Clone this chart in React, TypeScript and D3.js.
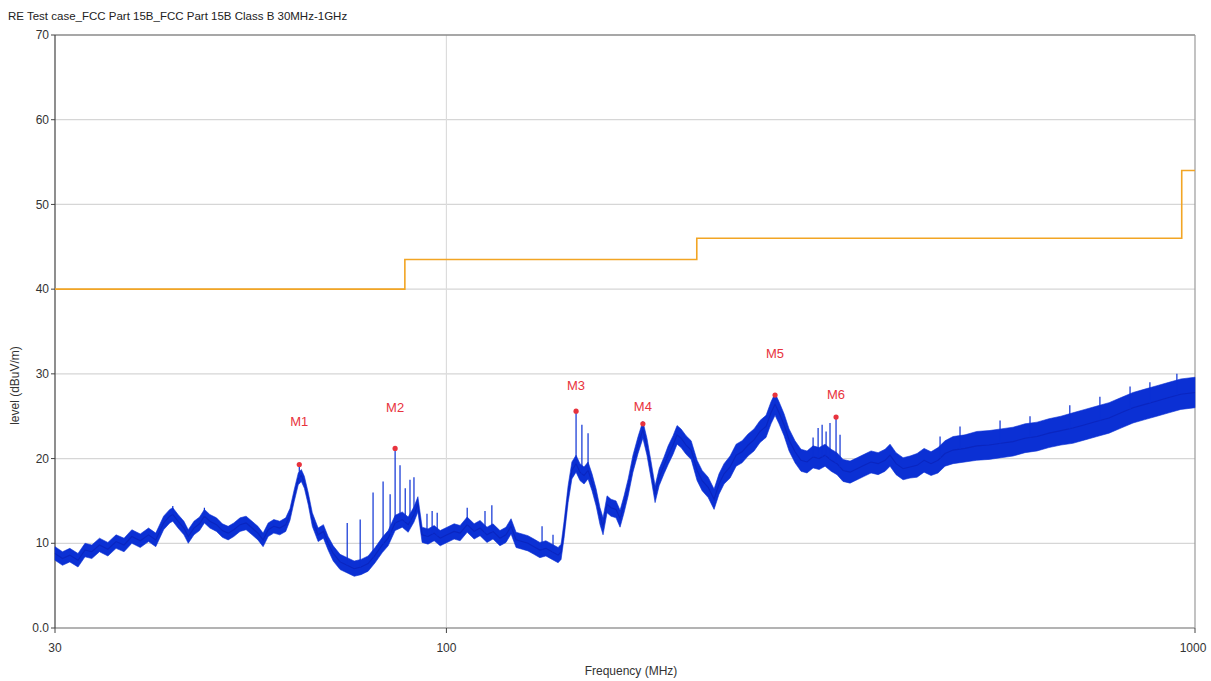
import { useMemo } from "react";
import * as d3 from "d3";

const traceData: [number, number, number][] = [
  [30.0, 8.8, 0.8], [30.7, 8.2, 0.8], [31.4, 8.6, 0.8], [32.2, 8.0, 0.8], [32.9, 9.2, 0.8],
  [33.6, 9.0, 0.8], [34.4, 9.8, 0.8], [35.3, 9.3, 0.8], [36.2, 10.2, 0.8], [37.1, 9.8, 0.8],
  [38.0, 10.8, 0.8], [39.0, 10.3, 0.8], [40.0, 11.0, 0.8], [40.9, 10.4, 0.8], [41.9, 12.4, 0.8],
  [42.7, 13.2, 0.8], [43.1, 13.4, 0.8], [43.8, 12.6, 0.8], [44.6, 11.8, 0.8], [45.2, 10.8, 0.8],
  [46.0, 11.8, 0.8], [46.8, 12.3, 0.8], [47.5, 13.2, 0.8], [48.3, 12.6, 0.8], [49.3, 12.2, 0.8],
  [50.2, 11.5, 0.8], [51.1, 11.2, 0.8], [52.0, 11.6, 0.8], [53.0, 12.2, 0.8], [54.0, 12.4, 0.8],
  [55.0, 11.8, 0.8], [56.0, 11.2, 0.8], [56.9, 10.4, 0.8], [57.8, 11.6, 0.8], [58.8, 12.0, 0.8],
  [59.9, 11.8, 0.8], [61.0, 12.2, 0.8], [61.8, 13.4, 0.7], [62.6, 15.6, 0.7], [63.4, 17.6, 0.7],
  [64.0, 18.0, 0.7], [64.6, 17.2, 0.7], [65.4, 15.2, 0.7], [66.2, 12.8, 0.8], [67.4, 11.0, 0.8],
  [68.5, 11.4, 0.8], [69.5, 10.0, 0.8], [70.6, 8.8, 0.9], [72.1, 7.8, 0.9], [73.7, 7.4, 0.9],
  [75.3, 7.0, 0.9], [76.9, 7.2, 0.9], [78.6, 7.6, 0.9], [80.3, 8.6, 0.9], [82.1, 9.8, 0.9],
  [83.6, 10.6, 0.9], [85.4, 12.4, 0.9], [87.3, 12.8, 0.9], [88.9, 12.2, 0.9], [90.5, 13.4, 0.9],
  [91.6, 14.6, 0.9], [92.8, 11.0, 0.9], [94.5, 10.8, 0.9], [96.3, 11.2, 0.9], [98.1, 10.6, 0.9],
  [100.2, 11.0, 0.9], [102.4, 11.4, 0.9], [104.3, 11.2, 0.9], [106.6, 12.2, 0.9], [108.9, 11.4, 0.9],
  [110.9, 11.8, 0.9], [113.3, 11.0, 0.9], [115.4, 11.4, 0.9], [117.9, 10.6, 0.9], [120.1, 11.0, 0.9],
  [122.0, 12.0, 0.9], [123.9, 10.4, 0.9], [126.2, 10.2, 0.9], [128.5, 10.0, 0.9], [130.9, 9.6, 0.9],
  [133.3, 9.2, 0.9], [135.8, 9.4, 0.9], [138.4, 9.0, 0.9], [141.0, 8.6, 0.9], [142.3, 9.0, 0.9],
  [143.6, 11.6, 1.0], [145.4, 15.8, 1.0], [147.1, 18.6, 1.0], [149.0, 19.4, 1.0], [150.8, 18.4, 1.0],
  [152.7, 18.0, 1.0], [154.6, 18.6, 1.0], [156.5, 17.2, 1.0], [158.5, 15.4, 1.0], [160.4, 13.2, 1.0],
  [161.9, 12.0, 1.0], [163.9, 14.6, 1.0], [165.9, 14.2, 1.0], [168.5, 14.0, 1.0], [170.6, 12.9, 1.0],
  [172.7, 14.6, 1.0], [174.9, 16.6, 1.0], [177.5, 19.4, 1.0], [180.3, 21.6, 1.0], [183.0, 23.4, 1.0],
  [185.3, 21.4, 1.0], [187.7, 18.6, 1.0], [190.0, 15.8, 1.0], [192.4, 17.8, 1.0], [195.3, 19.2, 1.0],
  [197.8, 20.4, 1.1], [200.8, 21.6, 1.1], [203.3, 22.8, 1.1], [205.8, 22.4, 1.1], [209.0, 21.6, 1.1],
  [212.3, 21.0, 1.1], [216.2, 18.6, 1.2], [219.6, 17.4, 1.2], [223.7, 16.6, 1.2], [227.8, 15.2, 1.2],
  [231.3, 17.0, 1.2], [234.9, 18.2, 1.2], [239.3, 19.0, 1.3], [243.8, 20.4, 1.3], [248.3, 20.8, 1.3],
  [252.9, 21.6, 1.3], [257.6, 22.2, 1.3], [262.4, 23.2, 1.3], [267.3, 23.8, 1.3], [271.4, 25.4, 1.3],
  [274.8, 26.4, 1.3], [278.2, 25.4, 1.3], [282.5, 24.0, 1.3], [286.9, 22.2, 1.3], [292.2, 20.8, 1.3],
  [297.6, 19.8, 1.3], [303.2, 19.6, 1.3], [308.9, 20.2, 1.3], [314.7, 20.0, 1.3], [320.5, 20.4, 1.3],
  [326.5, 19.8, 1.3], [332.5, 19.4, 1.3], [338.7, 18.6, 1.3], [346.1, 18.4, 1.3], [353.7, 18.8, 1.3],
  [361.4, 19.2, 1.3], [369.2, 19.6, 1.3], [377.3, 19.4, 1.3], [385.5, 19.8, 1.3], [391.4, 20.4, 1.3],
  [398.7, 19.4, 1.3], [407.4, 18.8, 1.3], [416.2, 19.0, 1.3], [425.3, 19.2, 1.4], [434.6, 19.8, 1.4],
  [444.0, 19.4, 1.4], [453.7, 19.8, 1.5], [463.5, 20.6, 1.5], [475.1, 21.0, 1.6], [492.9, 21.2, 1.6],
  [511.1, 21.5, 1.7], [530.7, 21.6, 1.7], [550.7, 21.8, 1.7], [571.4, 22.0, 1.7], [592.8, 22.4, 1.7],
  [615.2, 22.6, 1.7], [638.1, 23.0, 1.7], [662.1, 23.3, 1.7], [686.8, 23.6, 1.8], [712.6, 24.0, 1.8],
  [739.6, 24.4, 1.8], [767.7, 24.8, 1.8], [796.5, 25.4, 1.8], [826.5, 26.0, 1.8], [857.2, 26.4, 1.8],
  [889.5, 26.8, 1.8], [922.8, 27.2, 1.8], [957.5, 27.6, 1.8], [1000.0, 27.8, 1.8],
];

// Narrow spikes above the trace: [frequency MHz, peak level]
const spikeData: [number, number][] = [
  [43.1, 14.4], [47.5, 14.2], [63.6, 19.1], [73.7, 12.4], [76.7, 12.8], [79.8, 16.0],
  [82.3, 17.3], [84.1, 15.8], [85.4, 21.1], [86.7, 19.2], [88.1, 16.5], [89.4, 17.5],
  [90.5, 17.8], [94.2, 13.5], [95.7, 13.8], [97.2, 13.6], [106.6, 14.2], [112.6, 13.8],
  [115.0, 14.5], [134.2, 12.0], [138.8, 11.0], [149.0, 25.5], [151.7, 24.0], [154.6, 23.0],
  [183.0, 24.0], [274.8, 27.3], [308.9, 22.5], [313.7, 23.6], [317.6, 24.0], [321.5, 23.2],
  [325.4, 24.2], [331.5, 24.8], [335.6, 22.8], [456.5, 22.6], [485.4, 23.8], [549.0, 24.5],
  [602.0, 25.0], [680.4, 26.3], [746.4, 27.3], [818.9, 28.5], [870.5, 29.0], [945.8, 30.0],
];

// FCC Part 15B Class B limit steps: [start MHz, end MHz, limit dBuV/m]
const limitSteps: [number, number, number][] = [
  [30, 88, 40],
  [88, 216, 43.5],
  [216, 960, 46],
  [960, 1000, 54],
];

const markerNames = ["M1", "M2", "M3", "M4", "M5", "M6"];
const markerFreq = [63.6, 85.4, 149.0, 183.0, 274.8, 331.5];
const markerLevel = [19.3, 21.2, 25.6, 24.1, 27.5, 24.9];
const markerLabelLift = [43, 41, 26, 17, 42, 23];

const yTicks = [0, 10, 20, 30, 40, 50, 60, 70];
const xTicks = [30, 100, 1000];

const W = 1211;
const H = 681;
const M = { left: 55, right: 16, top: 35, bottom: 53 };
const FONT = "'Liberation Sans', 'DejaVu Sans', sans-serif";
const TRACE = "#0b30d4";
const LIMIT = "#f2a524";

export default function App() {
  const x = useMemo(
    () => d3.scaleLog().domain([30, 1000]).range([M.left, W - M.right]),
    []
  );
  const y = useMemo(
    () => d3.scaleLinear().domain([0, 70]).range([H - M.bottom, M.top]),
    []
  );

  const band = d3
    .area<[number, number, number]>()
    .x((d) => x(d[0]))
    .y0((d) => y(d[1] - d[2]))
    .y1((d) => y(d[1] + d[2]));
  const centre = d3
    .line<[number, number, number]>()
    .x((d) => x(d[0]))
    .y((d) => y(d[1]));

  const limitPath = d3
    .line<[number, number]>()
    .curve(d3.curveStepAfter)
    .x((d) => x(d[0]))
    .y((d) => y(d[1]))([
    ...limitSteps.map((s) => [s[0], s[2]] as [number, number]),
    [1000, limitSteps[limitSteps.length - 1][2]],
  ]);

  // base level for a spike = trace level at that frequency (drawing only)
  const freqs = traceData.map((d) => d[0]);
  const baseAt = (f: number) => {
    const i = Math.max(1, Math.min(freqs.length - 1, d3.bisectLeft(freqs, f)));
    const a = traceData[i - 1];
    const b = traceData[i];
    const t = (Math.log(f) - Math.log(a[0])) / (Math.log(b[0]) - Math.log(a[0]));
    return a[1] + (b[1] - a[1]) * t;
  };

  const x0 = M.left;
  const x1 = W - M.right;
  const yTop = M.top;
  const yBot = H - M.bottom;

  return (
    <svg
      width={W}
      height={H}
      style={{ position: "absolute", left: 0, top: 0, background: "#fff" }}
      fontFamily={FONT}
    >
      <text x={8} y={20} fontSize={11.5} fill="#222">
        RE Test case_FCC Part 15B_FCC Part 15B  Class B 30MHz-1GHz
      </text>

      {/* grid */}
      {yTicks.slice(1, -1).map((t) => (
        <line key={t} x1={x0} x2={x1} y1={y(t)} y2={y(t)} stroke="#d6d6d6" strokeWidth={1.2} />
      ))}
      <line x1={x(100)} x2={x(100)} y1={yTop} y2={yBot} stroke="#dcdcdc" strokeWidth={1.2} />

      {/* frame */}
      <line x1={x0} x2={x1} y1={yTop} y2={yTop} stroke="#8a8a8a" strokeWidth={1.5} />
      <line x1={x1} x2={x1} y1={yTop} y2={yBot} stroke="#9a9a9a" strokeWidth={1.2} />
      <line x1={x0} x2={x1} y1={yBot} y2={yBot} stroke="#9a9a9a" strokeWidth={1.5} />
      <line x1={x0} x2={x0} y1={yTop} y2={yBot} stroke="#444" strokeWidth={1.2} />

      {/* y axis */}
      {yTicks.map((t) => (
        <g key={t}>
          <line x1={x0 - 4} x2={x0} y1={y(t)} y2={y(t)} stroke="#444" />
          <text x={x0 - 6} y={y(t)} dy="0.35em" textAnchor="end" fontSize={12} fill="#333">
            {t === 0 ? "0.0" : t}
          </text>
        </g>
      ))}
      <text
        transform={`translate(19,${(yTop + yBot) / 2 + 54}) rotate(-90)`}
        textAnchor="middle"
        fontSize={12}
        fill="#333"
      >
        level (dBuV/m)
      </text>

      {/* x axis */}
      {xTicks.map((t) => (
        <g key={t}>
          <line x1={x(t)} x2={x(t)} y1={yBot} y2={yBot + 5} stroke="#444" />
          <text
            x={t === 1000 ? x(t) - 2 : x(t)}
            y={yBot + 24}
            textAnchor="middle"
            fontSize={12}
            fill="#333"
          >
            {t}
          </text>
        </g>
      ))}
      <text x={631} y={H - 6} textAnchor="middle" fontSize={12} fill="#333">
        Frequency (MHz)
      </text>

      {/* limit */}
      <path d={limitPath ?? ""} fill="none" stroke={LIMIT} strokeWidth={1.6} />

      {/* trace */}
      <path d={band(traceData) ?? ""} fill={TRACE} stroke={TRACE} strokeWidth={0.6} />
      <path d={centre(traceData) ?? ""} fill="none" stroke="#0a26c0" strokeWidth={1.1} />
      {spikeData.map(([f, v], i) => (
        <line
          key={i}
          x1={x(f)}
          x2={x(f)}
          y1={y(baseAt(f))}
          y2={y(v)}
          stroke={TRACE}
          strokeWidth={1.2}
        />
      ))}

      {/* markers */}
      {markerNames.map((n, i) => (
        <g key={n}>
          <circle cx={x(markerFreq[i])} cy={y(markerLevel[i])} r={2.6} fill="#e8333d" />
          <text
            x={x(markerFreq[i])}
            y={y(markerLevel[i]) - markerLabelLift[i]}
            dy="0.35em"
            textAnchor="middle"
            fontSize={13}
            fill="#e8333d"
          >
            {n}
          </text>
        </g>
      ))}
    </svg>
  );
}
